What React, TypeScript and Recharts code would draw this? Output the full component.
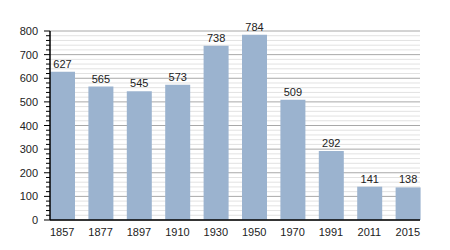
import React from 'react';
import {
  BarChart,
  Bar,
  XAxis,
  YAxis,
  CartesianGrid,
  LabelList
} from 'recharts';

const years = ['1857', '1877', '1897', '1910', '1930', '1950', '1970', '1991', '2011', '2015'];
const population = [627, 565, 545, 573, 738, 784, 509, 292, 141, 138];
const yTicks = [0, 20, 40, 60, 80, 100, 120, 140, 160, 180, 200, 220, 240, 260, 280, 300, 320, 340, 360, 380, 400,
  420, 440, 460, 480, 500, 520, 540, 560, 580, 600, 620, 640, 660, 680, 700, 720, 740, 760, 780, 800];

const chartData = years.map((year, i) => ({ year, value: population[i] }));

const YTick = (props: any) => {
  const { x, y, payload } = props;
  const major = payload.value % 100 === 0;
  return (
    <g>
      <line x1={x} x2={x - (major ? 6 : 4)} y1={y} y2={y} stroke="#000" strokeWidth={1} />
      {major && (
        <text x={x - 12} y={y} dy={4} textAnchor="end" fontSize={11} fill="#222">
          {payload.value}
        </text>
      )}
    </g>
  );
};

const GridLine = (props: any) => {
  const { x1, x2, y1, y2, index } = props;
  const major = index % 5 === 0;
  return (
    <line x1={x1} x2={x2} y1={y1} y2={y2} stroke={major ? '#a8a8a8' : '#e2e2e2'} strokeWidth={1} />
  );
};

const App: React.FC = () => {
  return (
    <div style={{ fontFamily: '"Liberation Sans", Arial, sans-serif' }}>
      <BarChart
        width={442}
        height={242}
        data={chartData}
        margin={{ top: 23, right: 30, left: 0, bottom: 10 }}
        barSize={25}
      >
        <CartesianGrid vertical={false} horizontal={(p: any) => <GridLine {...p} />} />
        <XAxis
          dataKey="year"
          tickLine={false}
          axisLine={{ stroke: '#000', strokeWidth: 1.5 }}
          tick={{ fontSize: 11, fill: '#222' }}
          tickMargin={2}
          height={20}
          padding={{ left: -7, right: -7 }}
          interval={0}
        />
        <YAxis
          width={42}
          domain={[0, 800]}
          ticks={yTicks}
          interval={0}
          tickSize={0}
          tickMargin={0}
          tickLine={false}
          axisLine={{ stroke: '#000', strokeWidth: 1.5 }}
          tick={<YTick />}
        />
        <Bar dataKey="value" fill="#9bb3cf" isAnimationActive={false}>
          <LabelList dataKey="value" position="top" offset={4} fontSize={11} fill="#222" />
        </Bar>
      </BarChart>
    </div>
  );
};

export default App;
